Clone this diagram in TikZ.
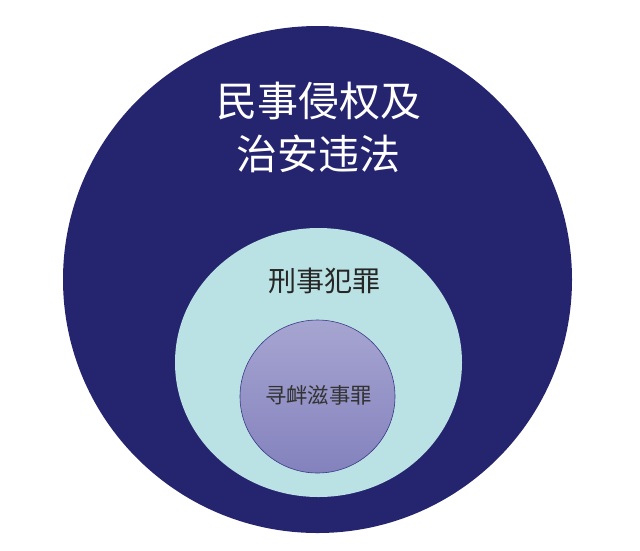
\documentclass[tikz,border=0pt]{standalone}
\usepackage{fontspec}
\newfontfamily\cjk{Noto Sans CJK SC}
\definecolor{navy}{HTML}{25246F}
\definecolor{paleteal}{HTML}{BAE1E3}
\definecolor{lavtop}{HTML}{A6A5D1}
\definecolor{lavbot}{HTML}{8482BD}
\definecolor{rimblue}{HTML}{3A3988}
\begin{document}
\begin{tikzpicture}[x=1pt,y=-1pt,
  lbl/.style={inner sep=0pt, align=center, font=\cjk}]
\useasboundingbox (0,0) rectangle (640,550);
\fill[navy] (317.5,279.5) ellipse [x radius=254.5, y radius=253.5];
\fill[paleteal] (318.5,362.5) ellipse [x radius=143.5, y radius=134.5];
\shade[top color=lavtop, bottom color=lavbot, draw=rimblue, line width=0.6pt]
  (317.5,396.5) ellipse [x radius=77.5, y radius=76.5];
\node[lbl, text=white, font=\cjk\fontsize{41}{53}\selectfont] (outer) at (318.5,127) {民事侵权及\\治安违法};
\node[lbl, text=black!85, font=\cjk\fontsize{28}{30}\selectfont] (mid) at (324,281) {刑事犯罪};
\node[lbl, text=black!80, font=\cjk\fontsize{21.4}{24}\selectfont] (inner) at (318.5,395) {寻衅滋事罪};
\end{tikzpicture}
\end{document}
